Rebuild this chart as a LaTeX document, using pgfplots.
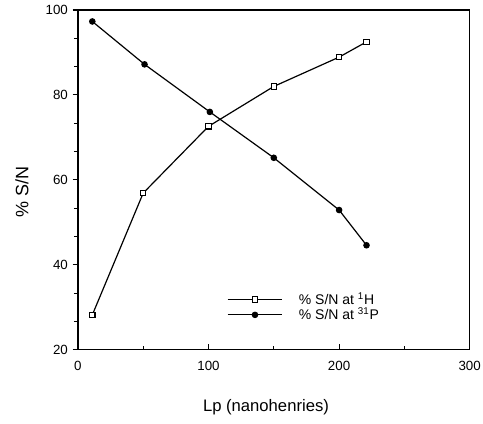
\documentclass[border=0pt]{standalone}
\usepackage{fontspec}
\setmainfont{Liberation Sans}
\usepackage{pgfplots}
\pgfplotsset{compat=1.18}
\begin{document}
\begin{tikzpicture}
\begin{axis}[
  scale only axis,
  width=294pt, height=255pt,
  xmin=0, xmax=300, ymin=20, ymax=100,
  xtick={0,100,200,300}, ytick={20,40,60,80,100},
  minor xtick={50,150,250},
  minor ytick={26.667,33.333,46.667,53.333,66.667,73.333,86.667,93.333},
  axis line style={line width=0.9pt},
  every tick/.style={black, line width=0.8pt},
  xtick pos=bottom, ytick pos=left,
  xtick align=inside, ytick align=outside,
  major tick length=4pt, minor tick length=3pt,
  /pgf/number format/assume math mode=true,
  tick label style={font=\fontsize{10}{11}\selectfont},
  xticklabel style={yshift=-5pt},
  xlabel={Lp (nanohenries)},
  ylabel={\% S/N},
  xlabel style={font=\fontsize{12.5}{14}\selectfont, at={(axis description cs:0.48,-0.17)}, anchor=center},
  ylabel style={font=\fontsize{13.5}{15}\selectfont, at={(axis description cs:-0.143,0.465)}, anchor=center},
  legend style={draw=none, fill=none, at={(axis cs:113,34.5)}, anchor=north west,
    font=\fontsize{10.5}{11}\selectfont, row sep=-3pt, inner sep=1pt,
    /tikz/every odd column/.append style={column sep=10pt}},
  legend cell align=left,
  legend image code/.code={\draw[mark repeat=2, mark phase=2] plot coordinates {(0cm,0cm)(0.72cm,0cm)(1.44cm,0cm)};},
]
\addplot[black, line width=0.9pt, mark=square*, mark size=2pt, mark options={fill=white, line width=0.8pt}]
  coordinates {(11,28.2) (50,56.9) (100,72.6) (150,82.0) (200,88.9) (221,92.5)};
\addlegendentry{\% S/N at \textsuperscript{1}H}
\addplot[black, line width=0.9pt, mark=*, mark size=2pt]
  coordinates {(11,97.3) (51,87.2) (101,76.0) (150,65.2) (200,52.9) (221,44.6)};
\addlegendentry{\% S/N at \textsuperscript{31}P}
\end{axis}
\pgfresetboundingbox
\path[use as bounding box] (-58.5pt,-55pt) rectangle (304pt,262.5pt);
\end{tikzpicture}
\end{document}
